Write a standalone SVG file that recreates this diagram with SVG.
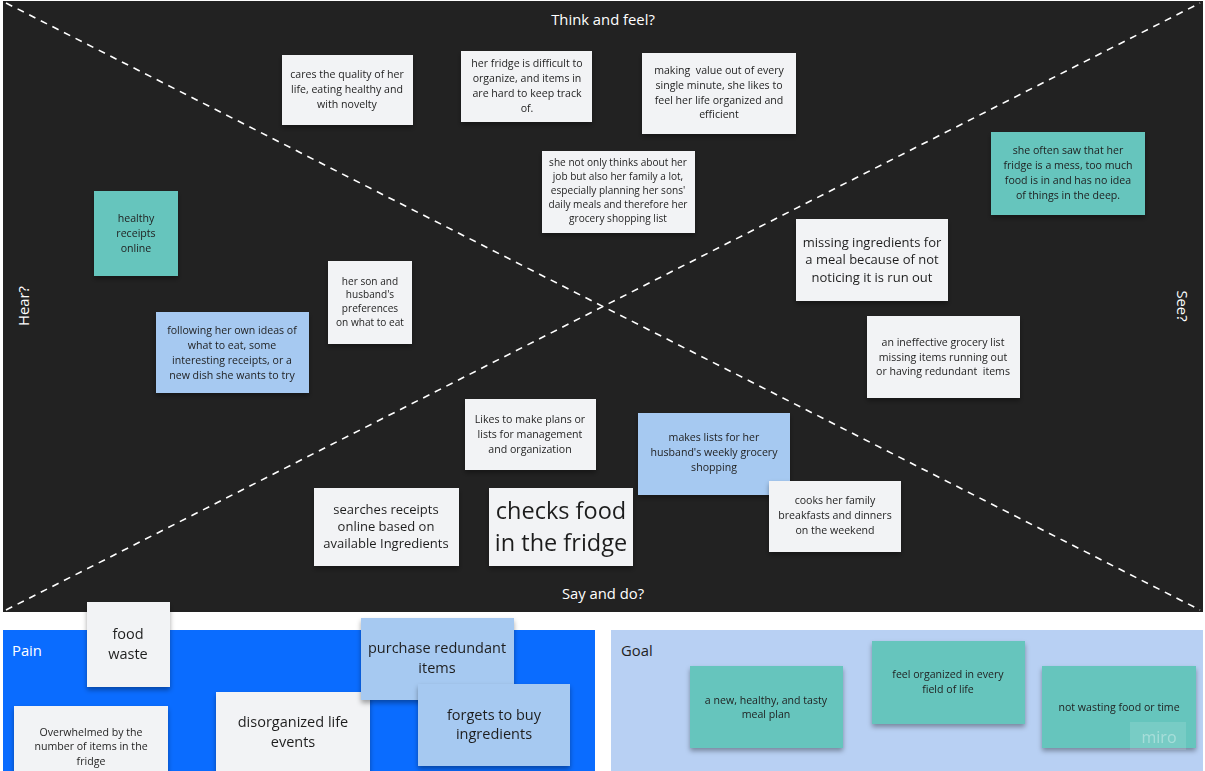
<svg xmlns="http://www.w3.org/2000/svg" width="1205" height="771" viewBox="0 0 1205 771">
<defs>
<filter id="sh" x="-10%" y="-10%" width="120%" height="130%">
<feDropShadow dx="0" dy="3" stdDeviation="2.5" flood-color="#000" flood-opacity="0.35"/>
</filter>
<style>
text{font-family:"Open Sans","Noto Sans","Liberation Sans",sans-serif;fill:#1f1f1f;text-anchor:middle}
.pre{white-space:pre}
.w{fill:#f2f3f5}
.t{fill:#66c5bd}
.b{fill:#a6c9f1}
.s{font-size:10.6px}
.m{font-size:13px}
.l{font-size:14.5px}
.xl{font-size:23.5px}
.lab{fill:#ffffff;font-size:14.8px}
.dash{stroke:#ffffff;stroke-width:1.6;stroke-dasharray:7 6;fill:none}
</style>
</defs>
<rect x="0" y="0" width="1205" height="771" fill="#ffffff"/>
<rect x="3" y="1" width="1200" height="611" fill="#222222"/>
<g id="connectors">
<line class="dash" x1="6" y1="3" x2="1200" y2="610"/>
<line class="dash" x1="6" y1="610" x2="1200" y2="3"/>
</g>
<text class="lab" x="603" y="25">Think and feel?</text>
<text class="lab" x="603" y="599">Say and do?</text>
<text class="lab" transform="translate(29,306) rotate(-90)">Hear?</text>
<text class="lab" transform="translate(1177,306) rotate(90)">See?</text>
<rect x="3" y="630" width="592" height="141" fill="#0a6cff"/>
<rect x="611" y="630" width="592" height="141" fill="#b8d0f3"/>
<text class="lab" x="12" y="656" style="text-anchor:start">Pain</text>
<text x="621" y="656" style="text-anchor:start;font-size:14.8px">Goal</text>

<g id="n1" filter="url(#sh)"><rect class="w" x="282" y="55" width="131" height="70"/>
<text class="s"><tspan x="347" y="78">cares the quality of her</tspan><tspan x="347" y="93">life, eating healthy and</tspan><tspan x="347" y="108">with novelty</tspan></text></g>
<g id="n2" filter="url(#sh)"><rect class="w" x="461" y="51" width="131" height="71"/>
<text class="s"><tspan x="527" y="67">her fridge is difficult to</tspan><tspan x="527" y="82">organize, and items in</tspan><tspan x="527" y="97">are hard to keep track</tspan><tspan x="527" y="112">of.</tspan></text></g>
<g id="n3" filter="url(#sh)"><rect class="w" x="642" y="53" width="154" height="81"/>
<text class="s pre"><tspan x="719" y="74">making  value out of every</tspan><tspan x="719" y="89">single minute, she likes to</tspan><tspan x="719" y="104">feel her life organized and</tspan><tspan x="719" y="118">efficient</tspan></text></g>
<g id="n4" filter="url(#sh)"><rect class="w" x="542" y="151" width="153" height="82"/>
<text style="font-size:10.1px"><tspan x="618" y="166">she not only thinks about her</tspan><tspan x="618" y="180">job but also her family a lot,</tspan><tspan x="618" y="194">especially planning her sons'</tspan><tspan x="618" y="208">daily meals and therefore her</tspan><tspan x="618" y="222">grocery shopping list</tspan></text></g>
<g id="n5" filter="url(#sh)"><rect class="t" x="991" y="132" width="154" height="83"/>
<text class="s"><tspan x="1068" y="154">she often saw that her</tspan><tspan x="1068" y="169">fridge is a mess, too much</tspan><tspan x="1068" y="184">food is in and has no idea</tspan><tspan x="1068" y="199">of things in the deep.</tspan></text></g>
<g id="n6" filter="url(#sh)"><rect class="t" x="94" y="191" width="84" height="85"/>
<text class="s"><tspan x="136" y="222">healthy</tspan><tspan x="136" y="237">receipts</tspan><tspan x="136" y="252">online</tspan></text></g>
<g id="n7" filter="url(#sh)"><rect class="w" x="328" y="261" width="84" height="83"/>
<text style="font-size:10.1px"><tspan x="370" y="285">her son and</tspan><tspan x="370" y="298">husband's</tspan><tspan x="370" y="312">preferences</tspan><tspan x="370" y="326">on what to eat</tspan></text></g>
<g id="n8" filter="url(#sh)"><rect class="b" x="156" y="312" width="153" height="81"/>
<text class="s"><tspan x="232" y="334">following her own ideas of</tspan><tspan x="232" y="349">what to eat, some</tspan><tspan x="232" y="364">interesting receipts, or a</tspan><tspan x="232" y="379">new dish she wants to try</tspan></text></g>
<g id="n9" filter="url(#sh)"><rect class="w" x="796" y="219" width="152" height="82"/>
<text class="m"><tspan x="872" y="247">missing ingredients for</tspan><tspan x="872" y="264">a meal because of not</tspan><tspan x="872" y="282">noticing it is run out</tspan></text></g>
<g id="n10" filter="url(#sh)"><rect class="w" x="867" y="316" width="153" height="82"/>
<text class="s pre"><tspan x="943" y="346">an ineffective grocery list</tspan><tspan x="943" y="361">missing items running out</tspan><tspan x="943" y="375">or having redundant  items</tspan></text></g>
<g id="n11" filter="url(#sh)"><rect class="w" x="465" y="399" width="131" height="71"/>
<text class="s"><tspan x="530" y="423">Likes to make plans or</tspan><tspan x="530" y="438">lists for management</tspan><tspan x="530" y="453">and organization</tspan></text></g>
<g id="n12" filter="url(#sh)"><rect class="b" x="638" y="413" width="152" height="82"/>
<text class="s"><tspan x="714" y="441">makes lists for her</tspan><tspan x="714" y="456">husband's weekly grocery</tspan><tspan x="714" y="471">shopping</tspan></text></g>
<g id="n13" filter="url(#sh)"><rect class="w" x="769" y="481" width="132" height="71"/>
<text class="s"><tspan x="835" y="504">cooks her family</tspan><tspan x="835" y="519">breakfasts and dinners</tspan><tspan x="835" y="534">on the weekend</tspan></text></g>
<g id="n14" filter="url(#sh)"><rect class="w" x="314" y="488" width="145" height="78"/>
<text class="m"><tspan x="386" y="514">searches receipts</tspan><tspan x="386" y="531">online based on</tspan><tspan x="386" y="548">available Ingredients</tspan></text></g>
<g id="n15" filter="url(#sh)"><rect class="w" x="489" y="488" width="144" height="78"/>
<text class="xl"><tspan x="561" y="519">checks food</tspan><tspan x="561" y="551">in the fridge</tspan></text></g>

<g id="p1" filter="url(#sh)"><rect class="w" x="87" y="602" width="83" height="85"/>
<text class="l"><tspan x="128" y="639">food</tspan><tspan x="128" y="659">waste</tspan></text></g>
<g id="p2" filter="url(#sh)"><rect class="w" x="14" y="706" width="154" height="70"/>
<text class="s"><tspan x="91" y="736">Overwhelmed by the</tspan><tspan x="91" y="750">number of items in the</tspan><tspan x="91" y="765">fridge</tspan></text></g>
<g id="p3" filter="url(#sh)"><rect class="w" x="216" y="692" width="154" height="84"/>
<text class="l"><tspan x="293" y="727">disorganized life</tspan><tspan x="293" y="747">events</tspan></text></g>
<g id="p4" filter="url(#sh)"><rect class="b" x="361" y="618" width="153" height="82"/>
<text class="l"><tspan x="437" y="653">purchase redundant</tspan><tspan x="437" y="673">items</tspan></text></g>
<g id="p5" filter="url(#sh)"><rect class="b" x="418" y="684" width="152" height="82"/>
<text class="l"><tspan x="494" y="720">forgets to buy</tspan><tspan x="494" y="739">ingredients</tspan></text></g>

<g id="g1" filter="url(#sh)"><rect class="t" x="690" y="666" width="153" height="82"/>
<text class="s"><tspan x="766" y="704">a new, healthy, and tasty</tspan><tspan x="766" y="718">meal plan</tspan></text></g>
<g id="g2" filter="url(#sh)"><rect class="t" x="872" y="641" width="153" height="83"/>
<text class="s"><tspan x="948" y="678">feel organized in every</tspan><tspan x="948" y="693">field of life</tspan></text></g>
<g id="g3" filter="url(#sh)"><rect class="t" x="1042" y="666" width="154" height="82"/>
<text class="s"><tspan x="1119" y="711">not wasting food or time</tspan></text></g>
<rect x="1130" y="722" width="56" height="28" fill="#ffffff" opacity="0.12"/>
<text x="1159" y="743" style="font-size:16px;fill:#ffffff;opacity:0.35">miro</text>
</svg>
